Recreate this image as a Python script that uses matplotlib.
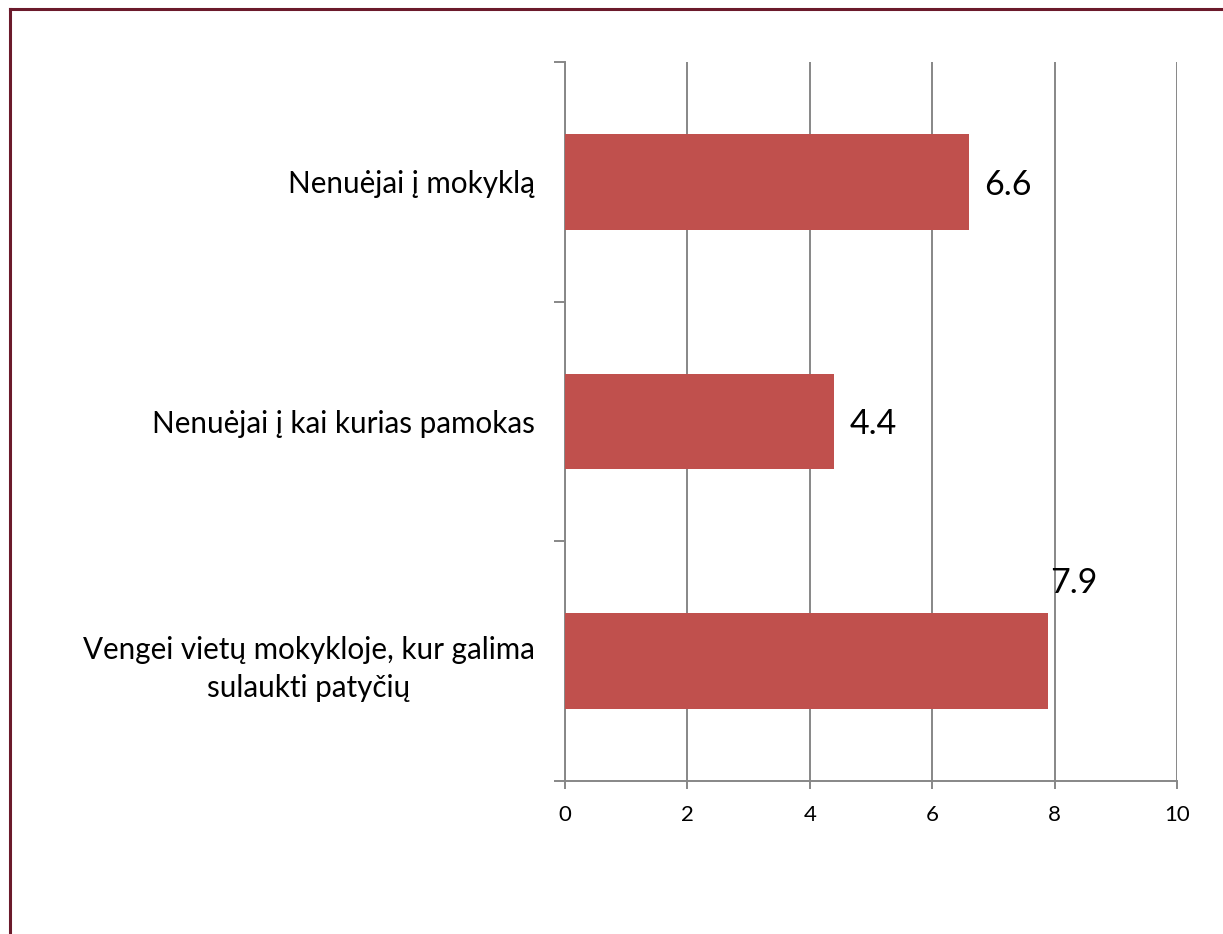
import matplotlib
matplotlib.use("Agg")
import matplotlib.pyplot as plt
from matplotlib.lines import Line2D
import numpy as np

# --- data (top to bottom as shown) ---
categories = [
    "Nenuėjai į mokyklą",
    "Nenuėjai į kai kurias pamokas",
    "Vengei vietų mokykloje, kur galima\nsulaukti patyčių",
]
values = [6.6, 4.4, 7.9]
x_ticks = [0, 2, 4, 6, 8, 10]

bar_color = "#C0504D"
grid_color = "#878787"
border_color = "#6B1A2B"

plt.rcParams["font.family"] = ["Lato", "DejaVu Sans"]

fig = plt.figure(figsize=(12.23, 9.34), dpi=100)
ax = fig.add_axes([565 / 1223, 1 - 781 / 934, (1177 - 565) / 1223, (781 - 62) / 934])

n = len(categories)
ypos = np.arange(n)
ax.barh(ypos, values, height=0.4, color=bar_color, zorder=3)
ax.set_ylim(n - 0.5, -0.5)
ax.set_xlim(0, 10)

# vertical gridlines
ax.set_xticks(x_ticks)
ax.set_xticklabels([str(t) for t in x_ticks], fontsize=16)
ax.grid(axis="x", color=grid_color, linewidth=1.4, zorder=0)
ax.set_axisbelow(True)

# y ticks at category boundaries, labels at centres
ax.set_yticks(np.arange(-0.5, n, 1.0))
ax.set_yticklabels([])
ax.set_yticks(ypos, minor=True)
ax.set_yticklabels(categories, minor=True, fontsize=21.3, multialignment="center",
                   linespacing=1.45)
ax.tick_params(axis="y", which="major", length=8, width=1.4, color=grid_color, direction="out")
ax.tick_params(axis="y", which="minor", length=0, pad=22)
ax.tick_params(axis="x", length=6, width=1.4, color=grid_color, pad=11)

for side in ("top", "right"):
    ax.spines[side].set_visible(False)
for side in ("left", "bottom"):
    ax.spines[side].set_color(grid_color)
    ax.spines[side].set_linewidth(1.4)

# data labels
for i, v in enumerate(values):
    if i == n - 1:
        ax.annotate(f"{v:.1f}", (v, i - 0.2), xytext=(1, 10), textcoords="offset points",
                    ha="left", va="bottom", fontsize=24.5)
    else:
        ax.annotate(f"{v:.1f}", (v, i), xytext=(11, -2), textcoords="offset points",
                    ha="left", va="center", fontsize=24.5)

# outer frame (left and top edges)
fig.add_artist(Line2D([10.5 / 1223, 10.5 / 1223], [0, 1 - 8.5 / 934],
                      transform=fig.transFigure, color=border_color, linewidth=2.2))
fig.add_artist(Line2D([10.5 / 1223, 1], [1 - 8.5 / 934, 1 - 8.5 / 934],
                      transform=fig.transFigure, color=border_color, linewidth=2.2))

fig.savefig("out.png", dpi=100, facecolor="white")
